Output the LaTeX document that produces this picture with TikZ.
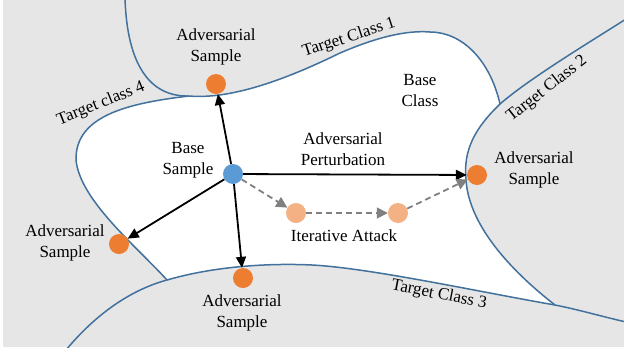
\documentclass[tikz,border=0pt]{standalone}
\usepackage{fontspec}
\setmainfont{Liberation Serif}
\usetikzlibrary{arrows.meta}
\definecolor{bgray}{HTML}{E6E6E6}
\definecolor{cblue}{HTML}{41719C}
\definecolor{dblue}{HTML}{5B9BD5}
\definecolor{dorange}{HTML}{ED7D31}
\definecolor{lorange}{HTML}{F4B183}
\definecolor{dgray}{HTML}{808080}
\begin{document}
\begin{tikzpicture}[x=1pt,y=-1pt,
  bound/.style={draw=cblue, line width=1.5pt},
  dot/.style={circle, minimum size=20pt, inner sep=0pt},
  lbl/.style={font=\fontsize{17}{21}\selectfont, align=center},
  tlbl/.style={font=\fontsize{17}{20}\selectfont, inner sep=0pt},
  arr/.style={draw=black, line width=1.8pt, -{Triangle[length=11pt,width=10pt]}},
  darr/.style={draw=dgray, line width=1.8pt, dash pattern=on 6pt off 4pt, -{Triangle[length=11pt,width=11pt]}}]
\useasboundingbox (0,0) rectangle (624,354);
\fill[bgray] (3,0) rectangle (624,347);
\coordinate (J14) at (189,96);
\coordinate (J12) at (500,104);
\coordinate (J23) at (555,305);
\coordinate (J34) at (167,280);
\begin{scope}
\clip (3,0) rectangle (624,347);
\fill[white] (J14) .. controls (235,100) and (295,75) .. (340,53)
  .. controls (375,38) and (405,30) .. (430,32)
  .. controls (462,32) and (490,60) .. (J12)
  .. controls (475,128) and (463,150) .. (466,180)
  .. controls (469,225) and (510,270) .. (J23)
  .. controls (480,292) and (370,268) .. (312,265)
  .. controls (270,263) and (215,266) .. (J34)
  .. controls (135,245) and (80,200) .. (76,160)
  .. controls (75,115) and (130,103) .. (J14) -- cycle;
\draw[bound] (125,-2) .. controls (127,65) and (150,97) .. (J14)
  .. controls (235,100) and (295,75) .. (340,53)
  .. controls (375,38) and (405,30) .. (430,32)
  .. controls (462,32) and (490,60) .. (J12);
\draw[bound] (626,19) .. controls (590,42) and (530,78) .. (J12)
  .. controls (475,128) and (463,150) .. (466,180)
  .. controls (469,225) and (510,270) .. (J23);
\draw[bound] (66,350) .. controls (95,315) and (130,290) .. (J34)
  .. controls (215,266) and (270,263) .. (312,265)
  .. controls (370,268) and (480,292) .. (J23)
  .. controls (580,310) and (600,316) .. (626,322);
\draw[bound] (J14) .. controls (130,103) and (75,115) .. (76,160)
  .. controls (80,200) and (135,245) .. (J34);
\end{scope}
% labels
\node[tlbl, rotate=18] (tc1) at (349,38) {Target Class 1};
\node[tlbl, rotate=38] (tc2) at (547,89) {Target Class 2};
\node[tlbl, rotate=-11] (tc3) at (439,295) {Target Class 3};
\node[tlbl, rotate=22] (tc4) at (101,104) {Target class 4};
\node[lbl] (bclass) at (420,91) {Base\\Class};
\node[lbl] (pert) at (343,149) {Adversarial\\Perturbation};
\node[lbl] (bsl) at (188,160) {Base\\Sample};
\node[lbl] (a1l) at (216,47) {Adversarial\\Sample};
\node[lbl] (a2l) at (534,170) {Adversarial\\Sample};
\node[lbl] (a3l) at (65,243) {Adversarial\\Sample};
\node[lbl] (a4l) at (242,313) {Adversarial\\Sample};
\node[lbl] (itl) at (344,236) {Iterative Attack};
% dots
\node[dot, fill=dblue] (base) at (233,174) {};
\node[dot, fill=dorange] (a1) at (216,84) {};
\node[dot, fill=dorange] (a2) at (477,175) {};
\node[dot, fill=dorange] (a3) at (119,244) {};
\node[dot, fill=dorange] (a4) at (243,278) {};
\node[dot, fill=lorange] (i1) at (296,213) {};
\node[dot, fill=lorange] (i2) at (398,213) {};
% arrows
\draw[arr] (base) -- (a1);
\draw[arr] (base) -- (a2);
\draw[arr] (base) -- (a3);
\draw[arr] (base) -- (a4);
\draw[darr] (base) -- (i1);
\draw[darr] (i1) -- (i2);
\draw[darr] (i2) -- (a2);
\end{tikzpicture}
\end{document}
